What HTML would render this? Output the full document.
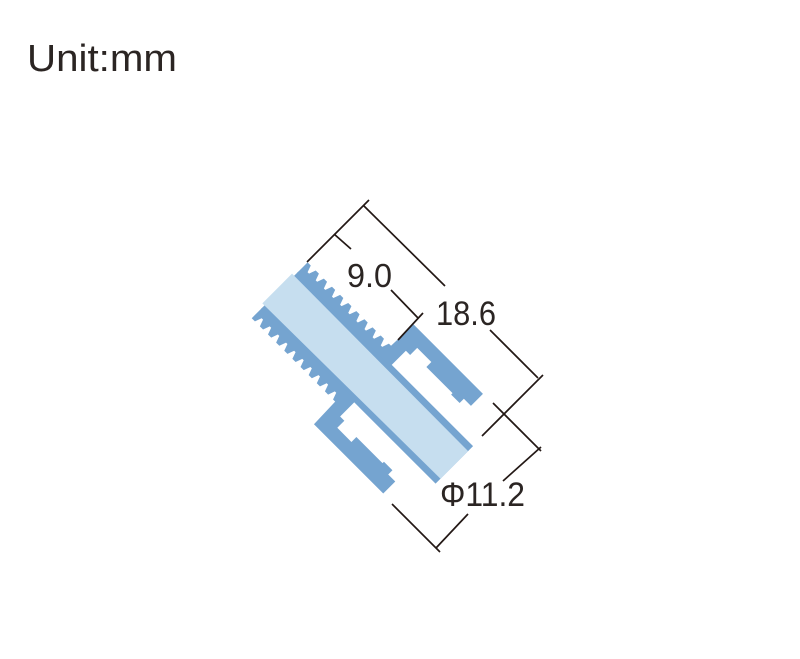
<!DOCTYPE html>
<html><head><meta charset="utf-8"><style>
html,body{margin:0;padding:0;background:#fff;}
svg{display:block;}
text{font-family:"Liberation Sans",sans-serif;fill:#2b2523;}
</style></head><body>
<svg width="800" height="659" viewBox="0 0 800 659" xmlns="http://www.w3.org/2000/svg">
<rect width="800" height="659" fill="#fff"/>
<text x="27" y="71" font-size="38" textLength="150" lengthAdjust="spacingAndGlyphs">Unit:mm</text>
<g transform="rotate(45)">
  <rect x="403" y="-19" width="247" height="53" fill="#75a4d0"/>
  <path fill="#75a4d0" d="M403,-17 L403,-32 h4.5 l2.5,7 h2 l2.5,-7 h4.5 l2.5,7 h2 l2.5,-7 h4.5 l2.5,7 h2 l2.5,-7 h4.5 l2.5,7 h2 l2.5,-7 h4.5 l2.5,7 h2 l2.5,-7 h4.5 l2.5,7 h2 l2.5,-7 h4.5 l2.5,7 h2 l2.5,-7 h4.5 l2.5,7 h2 l2.5,-7 h4.5 l2.5,7 h2 l2.5,-7 h4.5 l2.5,7 h2 l2.5,-7 L521,-32 L522,-63 L620,-63 L620,-46 L610,-46 L610,-40 L598,-40 L598,-42 L561,-42 L561,-49 L541,-49 L541,-39 L535,-39 L535,-17 Z"/>
  <path fill="#75a4d0" d="M403,32 L403,47 h4.5 l2.5,-7 h2 l2.5,7 h4.5 l2.5,-7 h2 l2.5,7 h4.5 l2.5,-7 h2 l2.5,7 h4.5 l2.5,-7 h2 l2.5,7 h4.5 l2.5,-7 h2 l2.5,7 h4.5 l2.5,-7 h2 l2.5,7 h4.5 l2.5,-7 h2 l2.5,7 h4.5 l2.5,-7 h2 l2.5,7 h4.5 l2.5,-7 h2 l2.5,7 h4.5 l2.5,-7 h2 l2.5,7 L521,47 L522,78 L620,78 L620,61 L610,61 L610,55 L598,55 L598,57 L561,57 L561,64 L541,64 L541,54 L535,54 L535,32 Z"/>
  <polygon fill="#c6deef" points="400,-13 400,29 650,27 650,-12"/>
</g>
<g stroke="#231815" stroke-width="1.7" fill="none">
  <line x1="307" y1="262" x2="369" y2="200"/>
  <line x1="364" y1="206" x2="445" y2="286"/>
  <line x1="490" y1="330" x2="538" y2="378"/>
  <line x1="482" y1="436" x2="543" y2="375"/>
  <line x1="334" y1="234" x2="351" y2="249"/>
  <line x1="391" y1="290" x2="418" y2="318"/>
  <line x1="398" y1="340" x2="423" y2="313"/>
  <line x1="493" y1="403" x2="541" y2="451"/>
  <line x1="392" y1="504" x2="440" y2="552"/>
  <line x1="541" y1="447" x2="503" y2="481"/>
  <line x1="468" y1="514" x2="436" y2="548"/>
</g>
<text x="347" y="287" font-size="33" textLength="45" lengthAdjust="spacingAndGlyphs">9.0</text>
<text x="436" y="325" font-size="34" textLength="60" lengthAdjust="spacingAndGlyphs">18.6</text>
<text x="440" y="506" font-size="34" textLength="85" lengthAdjust="spacingAndGlyphs">Φ11.2</text>
</svg>
</body></html>
